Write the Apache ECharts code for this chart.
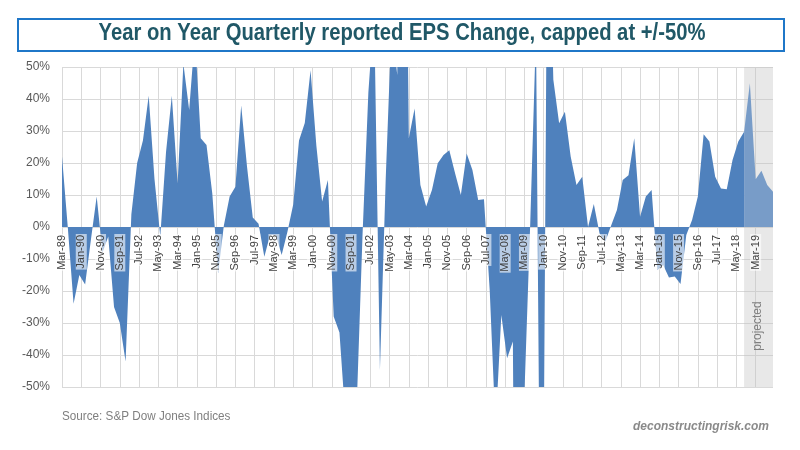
<!DOCTYPE html>
<html><head><meta charset="utf-8">
<script src="https://cdn.jsdelivr.net/npm/echarts@6/dist/echarts.min.js"></script>
<style>html,body{margin:0;padding:0;background:#fff}#c{width:800px;height:450px}</style>
</head><body><div id="c"></div>
<script>
// ---- data ----
const monthNames = ['Jan','Feb','Mar','Apr','May','Jun','Jul','Aug','Sep','Oct','Nov','Dec'];
const quarterMonths = ['Mar','Jun','Sep','Dec'];
const firstYear = 1989, lastYear = 2019;
const tickLabels = ['Mar-89','Jan-90','Nov-90','Sep-91','Jul-92','May-93','Mar-94','Jan-95','Nov-95','Sep-96',
  'Jul-97','May-98','Mar-99','Jan-00','Nov-00','Sep-01','Jul-02','May-03','Mar-04','Jan-05','Nov-05','Sep-06',
  'Jul-07','May-08','Mar-09','Jan-10','Nov-10','Sep-11','Jul-12','May-13','Mar-14','Jan-15','Nov-15','Sep-16',
  'Jul-17','May-18','Mar-19'];
// quarterly YoY reported EPS change (%), Mar-89 .. Dec-19
const epsChange = [
  22, 0, -24, -15,
  -18, -4, 9.5, -8,
  -3, -25, -30, -42,
  4, 20, 27, 41,
  15, -3, 23.5, 41,
  13.6, 51, 36.6, 60,
  27.7, 25.6, 10.5, -14.5,
  0.5, 9.5, 12.6, 38,
  19, 3, 1, -9.3,
  -2.5, -2.5, -8.75, -1.5,
  7, 27, 32.5, 49,
  25.5, 8, 14.7, -28,
  -33, -59, -65, -55,
  -2, 42, 68, -44.7,
  15, 63, 47.5, 200,
  27.7, 37, 13.1, 6.4,
  11.6, 19.9, 22.5, 24,
  16.8, 10, 23, 17.8,
  8.4, 8.7, -20, -63,
  -27.5, -41, -35.8, -300,
  -52, 1, 61, -165,
  114, 46, 32.4, 36,
  22, 13.1, 15.7, 0,
  7.2, -2, -4.5, 0.5,
  5.3, 14.7, 16.2, 27.7,
  3.2, 9.5, 11.6, -13.4,
  -11.9, -15.8, -15.5, -17.8,
  -2.5, 2.2, 9.5, 29,
  26.7, 15.7, 12, 11.8,
  20.9, 26.7, 29.8, 44.9,
  14.9, 17.6, 13.1, 11
];
const projectedFrom = 'Sep-18';
const projectedTo = 'Dec-19';

// ---- build categories ----
const yy = y => String(y % 100).padStart(2, '0');
const months = [];
for (let y = firstYear; y <= lastYear; y++) {
  for (let m = 0; m < 12; m++) {
    if (y === firstYear && m < 2) continue;
    months.push(monthNames[m] + '-' + yy(y));
  }
}
const quarters = [];
for (let y = firstYear; y <= lastYear; y++) quarterMonths.forEach(q => quarters.push(q + '-' + yy(y)));
const pairs = quarters.map((q, i) => [q, epsChange[i]]);
const pIdx = quarters.indexOf(projectedFrom);
const actualData = pairs.slice(0, pIdx + 1);
const projData = pairs.slice(pIdx);

const isTick = (i, v) => tickLabels.indexOf(v) >= 0;

const gridTop = 67, gridBottom = 63, gridH = 450 - gridTop - gridBottom;

const chart = echarts.init(document.getElementById('c'), null, {renderer: 'canvas'});
chart.setOption({
  animation: false,
  backgroundColor: '#ffffff',
  grid: {left: 62, right: 27, top: gridTop, bottom: gridBottom},
  xAxis: [
    { // grid lines (under the area)
      type: 'category', data: months, boundaryGap: false,
      axisLine: {onZero: false, show: false},
      axisTick: {show: false}, axisLabel: {show: false},
      splitLine: {show: true, interval: isTick, lineStyle: {color: '#d9d9d9', width: 1}},
      z: 0
    },
    { // labels at the zero line (above the area)
      type: 'category', data: months, boundaryGap: false, position: 'bottom',
      offset: -gridH / 2, z: 10,
      axisLine: {show: false, onZero: false},
      axisTick: {show: false},
      splitLine: {show: false},
      axisLabel: {
        interval: isTick, rotate: 90, fontSize: 11, color: '#404040', margin: 7,
        fontFamily: 'Liberation Sans, Arial, sans-serif',
        backgroundColor: 'rgba(255,255,255,0.6)', padding: [0, 1]
      }
    }
  ],
  yAxis: {
    type: 'value', min: -50, max: 50, interval: 10,
    axisLine: {show: false}, axisTick: {show: false},
    axisLabel: {formatter: '{value}%', color: '#595959', fontSize: 12, margin: 12,
      fontFamily: 'Liberation Sans, Arial, sans-serif'},
    splitLine: {lineStyle: {color: '#d9d9d9', width: 1}}
  },
  series: [
    {
      type: 'line', xAxisIndex: 0, data: actualData, showSymbol: false, symbol: 'none',
      lineStyle: {width: 0, color: '#4f81bd'},
      areaStyle: {color: '#4f81bd', opacity: 1}, z: 3
    },
    {
      type: 'line', xAxisIndex: 0, data: projData, showSymbol: false, symbol: 'none',
      lineStyle: {width: 0, color: '#789cc8'},
      areaStyle: {color: '#789cc8', opacity: 1}, z: 3,
      markArea: {
        silent: true,
        itemStyle: {color: 'rgba(190,190,190,0.36)'},
        data: [[{xAxis: projectedFrom}, {xAxis: projectedTo}]]
      }
    }
  ],
  graphic: [
    {type: 'rect', left: 17, top: 18, shape: {width: 766, height: 32},
      style: {fill: '#ffffff', stroke: '#1f77c8', lineWidth: 2}, z: 10},
    {type: 'text', x: 402, y: 34, z: 11, scaleX: 0.88,
      style: {text: 'Year on Year Quarterly reported EPS Change, capped at +/-50%',
        font: 'bold 23px "Liberation Sans", Arial, sans-serif',
        fill: '#205867', textAlign: 'center', textVerticalAlign: 'middle'}},
    {type: 'text', x: 758, y: 326, rotation: Math.PI / 2, z: 11,
      style: {text: 'projected', font: '12px "Liberation Sans", Arial, sans-serif',
        fill: '#7f7f7f', textAlign: 'center', textVerticalAlign: 'middle'}},
    {type: 'text', x: 62, y: 416, z: 11, scaleX: 0.9,
      style: {text: 'Source: S&P Dow Jones Indices',
        font: '13px "Liberation Sans", Arial, sans-serif',
        fill: '#7f7f7f', textAlign: 'left', textVerticalAlign: 'middle'}},
    {type: 'text', x: 769, y: 427, z: 11,
      style: {text: 'deconstructingrisk.com',
        font: 'italic bold 12px "Liberation Sans", Arial, sans-serif',
        fill: '#8a8a8a', textAlign: 'right', textVerticalAlign: 'middle'}}
  ]
});
</script></body></html>
